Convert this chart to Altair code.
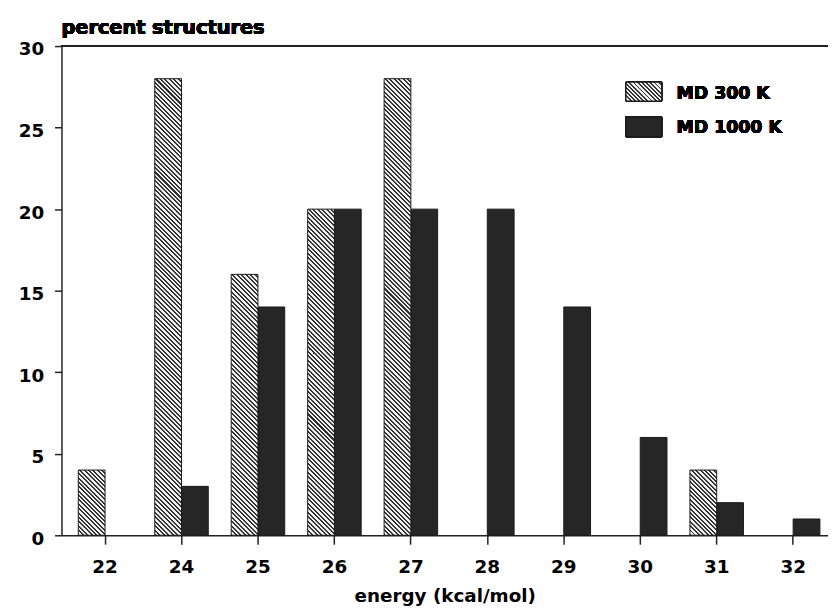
import math
import altair as alt
import pandas as pd

# ---- data ----
energies = ["22", "24", "25", "26", "27", "28", "29", "30", "31", "32"]
md300 = [4, 28, 16, 20, 28, 0, 0, 0, 4, 0]
md1000 = [0, 3, 14, 20, 20, 20, 14, 6, 2, 1]
series_names = ["MD 300 K", "MD 1000 K"]
y_ticks = [0, 5, 10, 15, 20, 25, 30]
y_max = 30
y_title = "percent structures"
x_title = "energy (kcal/mol)"

# ---- layout ----
W, H = 774, 494
PAD_IN, PAD_OUT, ALIGN = 0.3, 0.163, 0.675
FONT = "DejaVu Sans"
DARK = "#262626"
INK = "#1a1a1a"

rows = []
for e, a, b in zip(energies, md300, md1000):
    rows.append({"energy": e, "series": series_names[0], "pct": a})
    rows.append({"energy": e, "series": series_names[1], "pct": b})
df = pd.DataFrame(rows)

step = W / (len(energies) - PAD_IN + 2 * PAD_OUT)
bar_w = step * (1 - PAD_IN) / 2


def hatch(w, h, period=3.2, frac=0.45, dark="#333333", light="#efefef"):
    """Diagonal '\\' hatching as a bbox-relative linear gradient."""
    k = (w + h) / (w * w + h * h)
    n = max(1, round((w + h) / (math.sqrt(2) * period)))
    stops = []
    for i in range(n):
        a = i / n
        b = (i + frac) / n
        c = (i + 1) / n
        stops += [
            alt.GradientStop(offset=a, color=dark),
            alt.GradientStop(offset=b, color=dark),
            alt.GradientStop(offset=b, color=light),
            alt.GradientStop(offset=c, color=light),
        ]
    return alt.LinearGradient(gradient="linear", stops=stops,
                              x1=0, y1=1, x2=k * w, y2=1 - k * h)


x_enc = alt.X("energy:N", sort=energies,
              scale=alt.Scale(domain=energies, paddingInner=PAD_IN,
                              paddingOuter=PAD_OUT, align=ALIGN),
              axis=alt.Axis(title=x_title, labelAngle=0,
                            tickSize=9, labelPadding=14, titlePadding=10,
                            bandPosition=0.5))
xo_enc = alt.XOffset("series:N",
                     scale=alt.Scale(domain=series_names, paddingInner=0,
                                     paddingOuter=0))
y_enc = alt.Y("pct:Q", scale=alt.Scale(domain=[0, y_max], nice=False),
              axis=alt.Axis(values=y_ticks, title=None, tickSize=7,
                            labelPadding=11, labelOffset=3))

base = alt.Chart(df)
layers = []

# dark bars (MD 1000 K)
layers.append(
    base.transform_filter(
        (alt.datum.series == series_names[1]) & (alt.datum.pct > 0)
    ).mark_bar(fill=DARK, stroke=INK, strokeWidth=1)
    .encode(x=x_enc, xOffset=xo_enc, y=y_enc)
)

# hatched bars (MD 300 K), one layer per bar so each gets its own hatch
for e, v in zip(energies, md300):
    if v <= 0:
        continue
    h = v / y_max * H
    layers.append(
        base.transform_filter(
            (alt.datum.series == series_names[0]) & (alt.datum.energy == e)
        ).mark_bar(fill=hatch(bar_w, h), stroke=INK, strokeWidth=1)
        .encode(x=x_enc, xOffset=xo_enc, y=y_enc)
    )

# top frame line
layers.append(
    base.mark_rule(color="#222222", strokeWidth=1.5)
    .encode(x=alt.value(0), x2=alt.value(W), y=alt.value(0))
)

# y-axis title placed above the axis, as in the original
layers.append(
    base.mark_text(align="left", baseline="alphabetic", font=FONT,
                   fontWeight="bold", fontSize=19.5, color="black")
    .encode(x=alt.value(0), y=alt.value(-12), text=alt.value(y_title))
)

# manual legend
LX, LW = 570, 36
layers.append(
    base.mark_rect(fill=hatch(LW, 19, period=3.0), stroke=INK, strokeWidth=1)
    .encode(x=alt.value(LX), x2=alt.value(LX + LW),
            y=alt.value(36.5), y2=alt.value(55.5))
)
layers.append(
    base.mark_rect(fill=DARK, stroke=INK, strokeWidth=1)
    .encode(x=alt.value(LX), x2=alt.value(LX + LW),
            y=alt.value(71.5), y2=alt.value(91.5))
)
layers.append(
    base.mark_text(align="left", baseline="middle", font=FONT,
                   fontWeight="bold", fontSize=17.5, color="black")
    .encode(x=alt.value(621), y=alt.value(48), text=alt.value(series_names[0]))
)
layers.append(
    base.mark_text(align="left", baseline="middle", font=FONT,
                   fontWeight="bold", fontSize=17.5, color="black")
    .encode(x=alt.value(621), y=alt.value(83), text=alt.value(series_names[1]))
)

chart = alt.layer(*layers).properties(
    width=W, height=H,
    autosize=alt.AutoSizeParams(type="none"),
    padding={"left": 54, "top": 35.5, "right": 0, "bottom": 71},
).configure_view(stroke=None).configure_axis(
    grid=False, domainColor="#222222", domainWidth=1.5,
    tickColor="#222222", tickWidth=1.5,
    labelFont=FONT, labelFontWeight="bold", labelFontSize=18.5,
    labelColor="black", titleFont=FONT, titleFontWeight="bold",
    titleFontSize=18.5, titleColor="black",
)

chart.save("out.html", embed_options={"renderer": "svg", "actions": False})
